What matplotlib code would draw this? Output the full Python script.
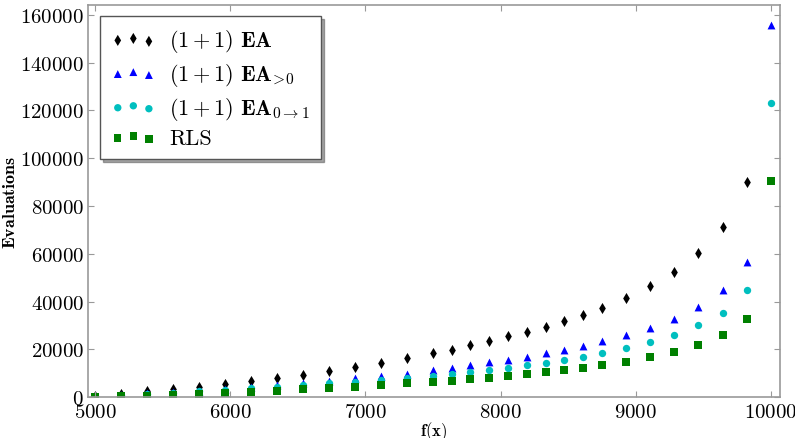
import matplotlib as mpl
mpl.use('Agg')
import matplotlib.pyplot as plt
from matplotlib.ticker import ScalarFormatter

mpl.rcParams['font.family'] = 'serif'
mpl.rcParams['font.serif'] = ['cmr10']
mpl.rcParams['mathtext.fontset'] = 'cm'
mpl.rcParams['axes.formatter.use_mathtext'] = True

# f(x) values
fx = [5000, 5192, 5385, 5577, 5769, 5962, 6154, 6346, 6538, 6731,
      6923, 7115, 7308, 7500, 7640, 7774, 7914, 8055, 8195, 8336,
      8469, 8609, 8750, 8928, 9105, 9283, 9460, 9645, 9822, 10000]

ea = [600, 1500, 2400, 3300, 4400, 5500, 6900, 8200, 9400, 11100,
      12800, 14500, 16400, 18400, 19900, 21700, 23400, 25400, 27200, 29400,
      31800, 34300, 37100, 41300, 46300, 52300, 60200, 71200, 90000, None]
ea_gt0 = [400, 1100, 1600, 2200, 2700, 3600, 4400, 5200, 6000, 6800,
          7900, 8700, 9700, 11400, 12400, 13500, 14600, 15700, 17000, 18400,
          19800, 21500, 23400, 25900, 29000, 32900, 37800, 44800, 56500, 155800]
ea_01 = [350, 1000, 1400, 1800, 2400, 3000, 3900, 4400, 5100, 5800,
         6500, 7300, 8000, 9000, 9850, 10600, 11400, 12400, 13300, 14500,
         15600, 17000, 18400, 20500, 23000, 26100, 30000, 35300, 44800, 123200]
rls = [200, 330, 630, 750, 1350, 1800, 2200, 2700, 3300, 3700,
       4400, 5100, 5800, 6400, 6900, 7500, 8200, 8900, 9700, 10400,
       11400, 12400, 13300, 14900, 16700, 19100, 21700, 25900, 32800, 90500]

labels = [r'$(1+1)\ \mathbf{EA}$', r'$(1+1)\ \mathbf{EA}_{\!>\!0}$',
          r'$(1+1)\ \mathbf{EA}_{0\rightarrow1}$', 'RLS']

fig = plt.figure(figsize=(7.95, 4.39), dpi=100)
ax = fig.add_axes([0.111, 0.093, 0.870, 0.893])

ea_x = [x for x, y in zip(fx, ea) if y is not None]
ea_y = [y for y in ea if y is not None]
ax.scatter(ea_x, ea_y, marker='d', c='k', s=32, linewidths=0, label=labels[0])
ax.scatter(fx, ea_gt0, marker='^', c='b', s=32, linewidths=0, label=labels[1])
ax.scatter(fx, ea_01, marker='o', c='c', s=28, linewidths=0, label=labels[2])
ax.scatter(fx, rls, marker='s', c='g', s=28, linewidths=0, label=labels[3])

ax.set_xlim(4950, 10065)
ax.set_ylim(0, 164000)
ax.set_xticks([5000, 6000, 7000, 8000, 9000, 10000])
ax.set_yticks(range(0, 160001, 20000))
for axis in (ax.xaxis, ax.yaxis):
    fmt = ScalarFormatter(useOffset=False)
    fmt.set_scientific(False)
    axis.set_major_formatter(fmt)

ax.tick_params(direction='in', top=True, right=True, labelsize=15,
               length=4, color='#999999', pad=3)
ax.tick_params(axis='x', pad=4)
for sp in ax.spines.values():
    sp.set_color('#999999')
    sp.set_linewidth(1.2)

ax.set_ylabel(r'$\mathbf{Evaluations}$', fontsize=13, labelpad=2)
ax.set_xlabel(r'$\mathbf{f(x)}$', fontsize=12, labelpad=-1)

leg = ax.legend(loc='upper left', bbox_to_anchor=(0.017, 0.972), fontsize=16,
                scatterpoints=3, scatteryoffsets=[0.375, 0.5, 0.3125],
                fancybox=False, shadow=True, framealpha=1, borderaxespad=0,
                handletextpad=0.6, borderpad=0.5, labelspacing=0.3)
leg.get_frame().set_edgecolor('#555555')

plt.savefig('out.png', dpi=100)
plt.close()
